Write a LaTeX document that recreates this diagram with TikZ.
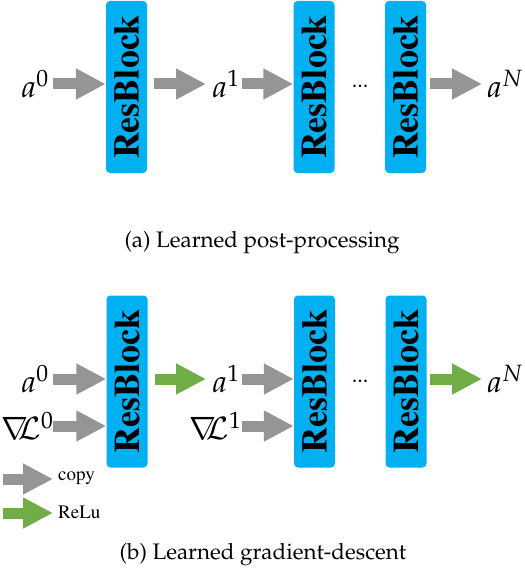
\documentclass[tikz,border=0pt]{standalone}
\usepackage[T1]{fontenc}
\usepackage{mathpazo}
\usepackage{graphicx}
\usetikzlibrary{arrows.meta}
\definecolor{rbblue}{HTML}{00B0F0}
\definecolor{cgray}{HTML}{959595}
\definecolor{cgreen}{HTML}{70AD47}
\newcommand{\rbtext}{\rotatebox{90}{ResBlock}}
\tikzset{
  rblock/.style={fill=rbblue, rounded corners=4pt, minimum width=41pt, minimum height=172pt, inner sep=0pt,
     font=\fontfamily{ptm}\fontsize{36}{40}\selectfont\bfseries, text=black},
  lab/.style={inner sep=0pt, font=\fontsize{31}{37}\selectfont},
  grayarr/.style={draw=cgray, line width=11pt, -{Triangle[length=30pt,width=29pt,fill=cgray]}},
  greenarr/.style={draw=cgreen, line width=11pt, -{Triangle[length=30pt,width=29pt,fill=cgreen]}},
  leg/.style={inner sep=0pt, anchor=west, font=\fontfamily{ptm}\fontsize{19}{21}\selectfont},
  captxt/.style={inner sep=0pt, font=\fontsize{22.4}{26}\selectfont},
  dotsn/.style={inner sep=0pt, font=\fontsize{22}{24}\selectfont},
}
\begin{document}
\begin{tikzpicture}[x=1pt,y=-1pt]
\useasboundingbox (0,0) rectangle (524,572);
% ---------- (a) ----------
\node[rblock] (ra1) at (126.5,87) {\rbtext};
\node[rblock] (ra2) at (314,87) {\rbtext};
\node[rblock] (ra3) at (405.5,87) {\rbtext};
\node[lab] (aa0) at (35,84) {$a^0$};
\node[lab] (aa1) at (226,84) {$a^1$};
\node[lab] (aaN) at (505,84) {$a^N$};
\node[dotsn] (da) at (360,86) {...};
\coordinate (sa1) at (53,84);
\coordinate (sa2) at (154,84);
\coordinate (ea2) at (206,84);
\coordinate (sa3) at (242,84);
\coordinate (sa4) at (430,84);
\coordinate (ea4) at (482,84);
\draw[grayarr] (sa1) -- (sa1 -| ra1.west);
\draw[grayarr] (sa2) -- (ea2);
\draw[grayarr] (sa3) -- (sa3 -| ra2.west);
\draw[grayarr] (sa4) -- (ea4);
\node[captxt] (capa) at (262,243) {(a) Learned post-processing};
% ---------- (b) ----------
\node[rblock] (rb1) at (127,381.5) {\rbtext};
\node[rblock] (rb2) at (314.5,381.5) {\rbtext};
\node[rblock] (rb3) at (406,381.5) {\rbtext};
\node[lab] (ba0) at (35,379) {$a^0$};
\node[lab] (bg0) at (27,426) {$\nabla\!\!\mathcal{L}^0$};
\node[lab] (ba1) at (226,379) {$a^1$};
\node[lab] (bg1) at (215,426) {$\nabla\!\!\mathcal{L}^1$};
\node[lab] (baN) at (505,379) {$a^N$};
\node[dotsn] (db) at (360,381) {...};
\coordinate (sb1) at (53,379);
\coordinate (sb2) at (53,426);
\coordinate (sb3) at (155,379);
\coordinate (eb3) at (206,379);
\coordinate (sb4) at (242,379);
\coordinate (sb5) at (242,426);
\coordinate (sb6) at (430,379);
\coordinate (eb6) at (482,379);
\draw[grayarr] (sb1) -- (sb1 -| rb1.west);
\draw[grayarr] (sb2) -- (sb2 -| rb1.west);
\draw[greenarr] (sb3) -- (eb3);
\draw[grayarr] (sb4) -- (sb4 -| rb2.west);
\draw[grayarr] (sb5) -- (sb5 -| rb2.west);
\draw[greenarr] (sb6) -- (eb6);
% legend
\coordinate (l1s) at (3,479);
\coordinate (l1e) at (53,479);
\coordinate (l2s) at (3,513);
\coordinate (l2e) at (53,513);
\draw[grayarr] (l1s) -- (l1e);
\draw[greenarr] (l2s) -- (l2e);
\node[leg] (tcopy) at (58,478) {copy};
\node[leg] (trelu) at (58,512) {ReLu};
\node[captxt] (capb) at (263,555) {(b) Learned gradient-descent};
\end{tikzpicture}
\end{document}
